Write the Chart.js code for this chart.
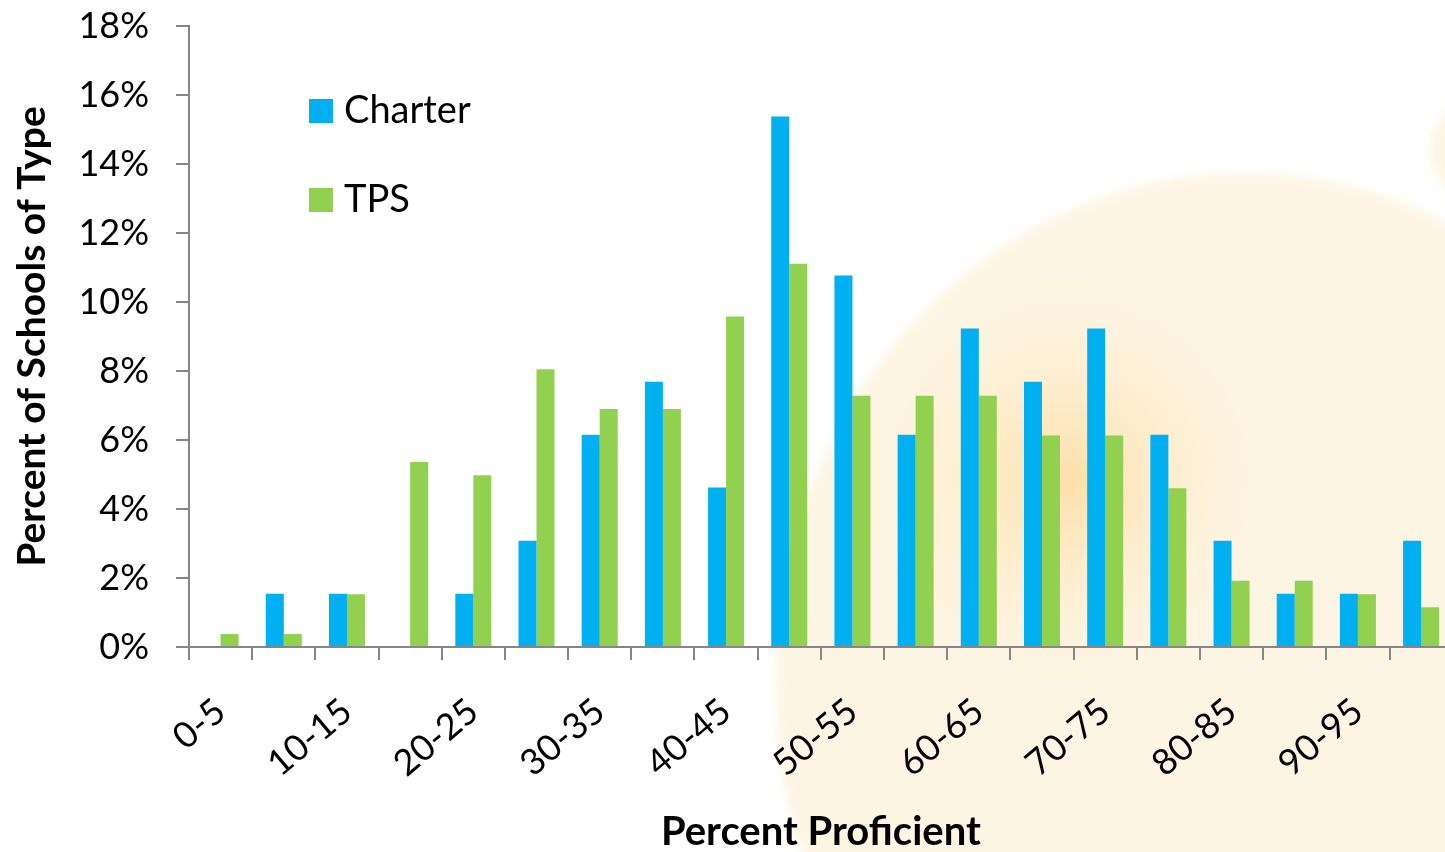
<!DOCTYPE html>
<html>
<head>
<meta charset="utf-8">
<title>Percent Proficient by School Type</title>
<script src="https://cdn.jsdelivr.net/npm/chart.js@4/dist/chart.umd.min.js"></script>
<style>
  html, body { margin: 0; padding: 0; background: #fff; overflow: hidden; }
  #wrap { position: relative; width: 1479px; height: 852px; }
</style>
</head>
<body>
<div id="wrap"><canvas id="chart"></canvas></div>
<script>
// proficiency bands, 5 points wide
const bands = ['0-5', '5-10', '10-15', '15-20', '20-25', '25-30', '30-35', '35-40', '40-45', '45-50',
               '50-55', '55-60', '60-65', '65-70', '70-75', '75-80', '80-85', '85-90', '90-95', '95-100'];

// share of schools (%) falling in each band
const charter = [0, 1.54, 1.54, 0, 1.54, 3.08, 6.15, 7.69, 4.62, 15.38,
                 10.77, 6.15, 9.23, 7.69, 9.23, 6.15, 3.08, 1.54, 1.54, 3.08];
const tps     = [0.38, 0.38, 1.53, 5.36, 4.98, 8.05, 6.90, 6.90, 9.58, 11.11,
                 7.28, 7.28, 7.28, 6.13, 6.13, 4.60, 1.92, 1.92, 1.53, 1.15];

const yTicks = [0, 2, 4, 6, 8, 10, 12, 14, 16, 18];

const BLUE = '#00b0f0';
const GREEN = '#92d050';
const AXIS = '#868686';
const FONT = 'Lato, "Noto Sans", sans-serif';

// soft beige disc with a warm glow behind the plot
const backdrop = {
  id: 'backdrop',
  beforeDraw(chart) {
    const ctx = chart.ctx;
    ctx.save();
    ctx.filter = 'blur(5px)';
    ctx.fillStyle = '#fdf5e4';
    ctx.beginPath();
    ctx.ellipse(1245, 683, 470, 510, 0, 0, Math.PI * 2);
    ctx.fill();
    ctx.beginPath();
    ctx.ellipse(1500, 150, 70, 60, 0, 0, Math.PI * 2);
    ctx.fill();
    ctx.filter = 'none';
    const g = ctx.createRadialGradient(1070, 480, 0, 1070, 480, 230);
    g.addColorStop(0, 'rgba(253, 216, 150, 0.75)');
    g.addColorStop(0.5, 'rgba(253, 228, 180, 0.35)');
    g.addColorStop(1, 'rgba(253, 245, 228, 0)');
    ctx.fillStyle = g;
    ctx.fillRect(800, 200, 560, 560);
    ctx.restore();
  }
};

// legend boxes sitting inside the plot, top left
const insideLegend = {
  id: 'insideLegend',
  afterDatasetsDraw(chart) {
    const ctx = chart.ctx;
    ctx.save();
    ctx.font = '38px ' + FONT;
    ctx.textBaseline = 'middle';
    chart.data.datasets.forEach((ds, i) => {
      const y = 111 + i * 89;
      ctx.fillStyle = ds.backgroundColor;
      ctx.fillRect(309, y - 12, 24, 24);
      ctx.fillStyle = '#000';
      ctx.fillText(ds.label, 344, y);
    });
    ctx.restore();
  }
};

new Chart(document.getElementById('chart'), {
  type: 'bar',
  data: {
    labels: bands,
    datasets: [
      { label: 'Charter', data: charter, backgroundColor: BLUE },
      { label: 'TPS', data: tps, backgroundColor: GREEN }
    ]
  },
  options: {
    responsive: true,
    maintainAspectRatio: false,
    animation: false,
    layout: { padding: { top: 26, right: 5, bottom: 0, left: 0 } },
    datasets: { bar: { categoryPercentage: 0.57, barPercentage: 1.0 } },
    plugins: {
      legend: { display: false },
      title: { display: false },
      tooltip: { enabled: false }
    },
    scales: {
      x: {
        afterFit: s => { s.height = 205; },
        grid: { drawOnChartArea: false, color: AXIS, lineWidth: 2, tickLength: 13, offset: true },
        border: { color: AXIS, width: 2 },
        ticks: {
          autoSkip: false, maxRotation: 40, minRotation: 40, padding: 30,
          color: '#000', font: { family: FONT, size: 36 },
          callback: (v, i) => (i % 2 === 0 ? bands[i] : '')
        },
        title: {
          display: true, text: 'Percent Proficient', color: '#000',
          font: { family: FONT, size: 40, weight: 'bold', lineHeight: 1 }, padding: { top: 0, bottom: 0 }
        }
      },
      y: {
        min: 0, max: 18,
        afterFit: s => { s.width = 189; s.paddingTop = 0; s.paddingBottom = 0; },
        afterBuildTicks: s => { s.ticks = yTicks.map(v => ({ value: v })); },
        grid: { drawOnChartArea: false, color: AXIS, lineWidth: 2, tickLength: 13 },
        border: { color: AXIS, width: 2 },
        ticks: {
          padding: 27, color: '#000', font: { family: FONT, size: 36 },
          callback: v => v + '%'
        },
        title: {
          display: true, text: 'Percent of Schools of Type', color: '#000',
          font: { family: FONT, size: 39, weight: 'bold', lineHeight: 1 }, padding: { top: 13, bottom: 0 }
        }
      }
    }
  },
  plugins: [backdrop, insideLegend]
});
</script>
</body>
</html>
